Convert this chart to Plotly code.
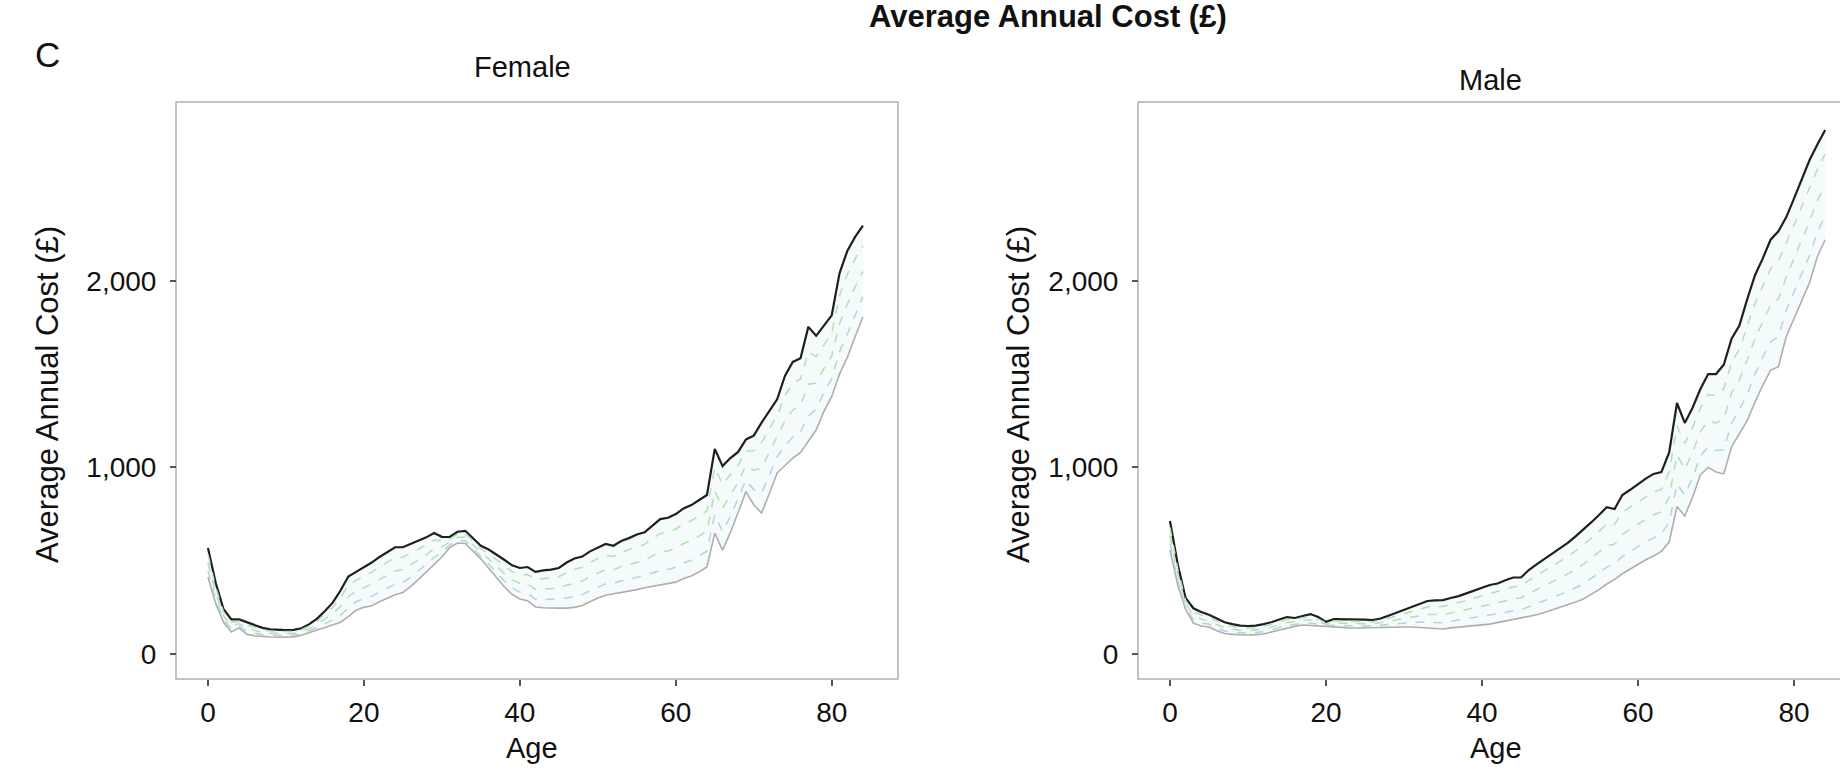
import plotly.graph_objects as go

ages = list(range(85))

female_upper = [568, 380, 240, 185, 185, 170, 155, 140, 132, 129, 128, 129, 138, 160, 190, 230, 275, 340, 415, 440,
                465, 490, 520, 545, 572, 572, 590, 610, 625, 648, 628, 627, 655, 660, 620, 580, 560, 530, 505, 475,
                461, 466, 440, 448, 452, 461, 490, 512, 522, 550, 570, 590, 580, 605, 621, 640, 652, 690, 723, 730,
                750, 780, 798, 825, 852, 1099, 1007, 1050, 1083, 1150, 1170, 1240, 1305, 1365, 1490, 1565, 1585, 1753, 1705, 1760,
                1815, 2040, 2160, 2235, 2295]
female_lower = [413, 270, 170, 118, 140, 105, 98, 93, 91, 90, 90, 92, 100, 112, 128, 142, 158, 170, 200, 235,
                250, 258, 280, 300, 318, 330, 362, 400, 440, 480, 520, 570, 595, 592, 550, 510, 460, 410, 360, 320,
                295, 285, 252, 248, 246, 246, 246, 250, 260, 280, 300, 315, 322, 332, 338, 345, 355, 362, 372, 375,
                385, 405, 418, 440, 466, 648, 557, 650, 760, 870, 800, 755, 860, 970, 1010, 1050, 1080, 1140, 1200, 1300,
                1380, 1500, 1590, 1700, 1806]
female_dash_a = [447, 294, 185, 133, 150, 119, 111, 103, 100, 99, 98, 100, 108, 123, 142, 161, 184, 207, 247, 280,
                 297, 309, 333, 354, 374, 383, 412, 446, 481, 517, 544, 583, 608, 607, 565, 525, 482, 436, 392, 354,
                 332, 325, 293, 292, 291, 293, 300, 308, 318, 339, 359, 376, 379, 392, 400, 410, 420, 434, 449, 453,
                 465, 487, 502, 525, 551, 747, 656, 738, 831, 932, 881, 862, 958, 1057, 1116, 1163, 1191, 1275, 1311, 1401,
                 1476, 1619, 1715, 1818, 1914]
female_dash_b = [490, 325, 205, 152, 162, 138, 126, 116, 111, 110, 109, 110, 119, 136, 159, 186, 216, 255, 307, 337,
                 357, 374, 400, 422, 445, 451, 476, 505, 532, 564, 574, 598, 625, 626, 585, 545, 510, 470, 432, 398,
                 378, 375, 346, 348, 349, 353, 368, 381, 391, 415, 435, 452, 451, 468, 479, 492, 503, 526, 547, 552,
                 567, 592, 608, 632, 659, 873, 782, 850, 921, 1010, 985, 997, 1082, 1167, 1250, 1307, 1332, 1446, 1452, 1530,
                 1597, 1770, 1875, 1967, 2050]
female_dash_c = [534, 356, 225, 170, 175, 156, 142, 130, 123, 120, 120, 121, 130, 149, 176, 211, 249, 303, 368, 395,
                 418, 439, 467, 491, 516, 519, 540, 564, 584, 611, 604, 614, 642, 645, 605, 565, 538, 504, 473, 441,
                 424, 426, 399, 404, 407, 414, 436, 454, 464, 491, 511, 529, 523, 545, 559, 575, 587, 618, 646, 652,
                 670, 697, 714, 740, 767, 1000, 908, 962, 1012, 1088, 1089, 1133, 1207, 1278, 1384, 1452, 1474, 1618, 1594, 1659,
                 1719, 1921, 2035, 2117, 2187]

male_upper = [713, 480, 300, 245, 225, 210, 190, 170, 160, 152, 150, 152, 160, 170, 185, 198, 193, 205, 214, 198,
              172, 187, 187, 188, 187, 184, 182, 190, 205, 220, 235, 250, 268, 284, 287, 289, 300, 310, 325, 342,
              355, 370, 378, 395, 410, 410, 450, 480, 508, 540, 565, 595, 630, 665, 705, 745, 787, 777, 852, 880,
              910, 940, 965, 975, 1080, 1345, 1238, 1320, 1420, 1500, 1500, 1550, 1690, 1760, 1900, 2030, 2120, 2220, 2265, 2340,
              2440, 2540, 2647, 2730, 2808]
male_lower = [557, 370, 240, 165, 150, 145, 125, 110, 105, 102, 102, 104, 107, 118, 129, 140, 148, 155, 152, 150,
              147, 145, 142, 140, 139, 140, 142, 145, 145, 146, 145, 145, 143, 140, 136, 134, 140, 145, 148, 152,
              156, 160, 168, 175, 182, 190, 198, 210, 222, 235, 250, 262, 278, 295, 320, 345, 375, 400, 430, 455,
              480, 505, 525, 550, 600, 790, 740, 840, 960, 1000, 975, 965, 1110, 1180, 1250, 1350, 1440, 1520, 1540, 1700,
              1800, 1900, 1990, 2130, 2220]
male_dash_a = [591, 394, 253, 183, 167, 159, 139, 123, 117, 113, 113, 115, 119, 129, 141, 153, 158, 166, 166, 161,
               153, 154, 152, 151, 150, 150, 151, 155, 158, 162, 165, 168, 171, 172, 169, 168, 175, 181, 187, 194,
               200, 206, 214, 223, 232, 238, 253, 269, 285, 302, 319, 335, 355, 376, 405, 433, 466, 483, 523, 549,
               575, 601, 622, 644, 706, 912, 850, 946, 1061, 1110, 1091, 1094, 1238, 1308, 1393, 1500, 1590, 1674, 1700, 1841,
               1941, 2041, 2135, 2262, 2349]
male_dash_b = [635, 425, 270, 205, 188, 178, 158, 140, 133, 127, 126, 128, 134, 144, 157, 169, 171, 180, 183, 174,
               160, 166, 165, 164, 163, 162, 162, 168, 175, 183, 190, 198, 206, 212, 212, 212, 220, 228, 237, 247,
               256, 265, 273, 285, 296, 300, 324, 345, 365, 388, 408, 429, 454, 480, 513, 545, 581, 589, 641, 668,
               695, 723, 745, 763, 840, 1068, 989, 1080, 1190, 1250, 1238, 1258, 1400, 1470, 1575, 1690, 1780, 1870, 1903, 2020,
               2120, 2220, 2319, 2430, 2514]
male_dash_c = [679, 456, 287, 227, 209, 196, 176, 157, 148, 141, 139, 141, 148, 159, 173, 185, 183, 194, 200, 187,
               167, 178, 177, 177, 176, 174, 173, 180, 192, 204, 215, 227, 241, 252, 254, 255, 265, 274, 286, 300,
               311, 324, 332, 347, 360, 362, 395, 421, 445, 473, 496, 522, 553, 584, 620, 657, 696, 694, 759, 787,
               815, 844, 868, 882, 974, 1223, 1128, 1214, 1319, 1390, 1385, 1421, 1562, 1632, 1757, 1880, 1970, 2066, 2106, 2199,
               2299, 2399, 2502, 2598, 2679]

y_tickvals = [0, 1000, 2000]
y_ticktext = ["0", "1,000", "2,000"]
x_tickvals = [0, 20, 40, 60, 80]

W, H = 1840, 770
FONT = "Liberation Sans, Arial, Helvetica, sans-serif"

def px_x(p):
    return p / W

def px_y(p):
    return 1 - p / H

BOX_TOP, BOX_BOTTOM = 102, 679
F_LEFT, F_RIGHT = 176, 898
M_LEFT = 1138

BLACK = "#1f1f1f"
GRAY = "#b2adad"
GREEN = "#b4dfb4"
BLUE = "#b0d4e6"
FILL = "rgba(210,238,232,0.22)"

fig = go.Figure()

def add_panel(xa, ya, lower, upper, da, db, dc):
    fig.add_trace(go.Scatter(x=ages, y=lower, mode="lines", line=dict(color=GRAY, width=1.6),
                             xaxis=xa, yaxis=ya, showlegend=False, hoverinfo="skip"))
    fig.add_trace(go.Scatter(x=ages, y=upper, mode="lines", line=dict(color=BLACK, width=2.2),
                             fill="tonexty", fillcolor=FILL,
                             xaxis=xa, yaxis=ya, showlegend=False, hoverinfo="skip"))
    for vals, col in ((da, BLUE), (db, GREEN), (dc, GREEN)):
        fig.add_trace(go.Scatter(x=ages, y=vals, mode="lines", line=dict(color=col, width=1.5, dash="dash"),
                                 xaxis=xa, yaxis=ya, showlegend=False, hoverinfo="skip"))

add_panel("x", "y", female_lower, female_upper, female_dash_a, female_dash_b, female_dash_c)
add_panel("x2", "y2", male_lower, male_upper, male_dash_a, male_dash_b, male_dash_c)

ydom = [px_y(BOX_BOTTOM), px_y(BOX_TOP)]
yrange = [-134, 2958]
tickfont = dict(family=FONT, size=28, color="#111111")

common_x = dict(showgrid=False, zeroline=False, showline=False, ticks="outside", ticklen=6,
                tickwidth=1.5, tickcolor="#555555", tickvals=x_tickvals, tickfont=tickfont,
                anchor="free", position=px_y(BOX_BOTTOM), ticklabelstandoff=2)
common_y = dict(showgrid=False, zeroline=False, showline=False, ticks="outside", ticklen=6,
                tickwidth=1.5, tickcolor="#555555", tickvals=y_tickvals, ticktext=y_ticktext,
                tickfont=tickfont, anchor="free", domain=ydom, range=yrange, ticklabelstandoff=8)

fig.update_layout(
    width=W, height=H, margin=dict(l=0, r=0, t=0, b=0),
    paper_bgcolor="white", plot_bgcolor="white",
    xaxis=dict(domain=[px_x(F_LEFT), px_x(F_RIGHT)], range=[-4.1, 88.5], **common_x),
    yaxis=dict(position=px_x(F_LEFT), **common_y),
    xaxis2=dict(domain=[px_x(M_LEFT), 1.0], range=[-4.1, 85.9], **common_x),
    yaxis2=dict(position=px_x(M_LEFT), **common_y),
    showlegend=False,
)

box_line = dict(color="#b0b0b0", width=1.5)
fig.add_shape(type="rect", xref="paper", yref="paper", x0=px_x(F_LEFT), x1=px_x(F_RIGHT),
              y0=px_y(BOX_BOTTOM), y1=px_y(BOX_TOP), line=box_line, layer="below")
fig.add_shape(type="rect", xref="paper", yref="paper", x0=px_x(M_LEFT), x1=1.02,
              y0=px_y(BOX_BOTTOM), y1=px_y(BOX_TOP), line=box_line, layer="below")

def ann(text, x, y, size, bold=False, angle=0, xanchor="center"):
    fig.add_annotation(text=f"<b>{text}</b>" if bold else text, x=px_x(x), y=px_y(y),
                       xref="paper", yref="paper", showarrow=False, textangle=angle,
                       xanchor=xanchor, yanchor="middle",
                       font=dict(family=FONT, size=size, color="#111111"))

ann("Average Annual Cost (£)", 1048, 17, 31, bold=True)
ann("C", 47, 54, 35)
ann("Female", 522, 67, 29)
ann("Male", 1490, 80, 29)
ann("Average Annual Cost (£)", 47, 395, 31, angle=-90)
ann("Average Annual Cost (£)", 1018, 395, 31, angle=-90)
ann("Age", 532, 748, 29)
ann("Age", 1496, 748, 29)

fig.write_html("out.html")
